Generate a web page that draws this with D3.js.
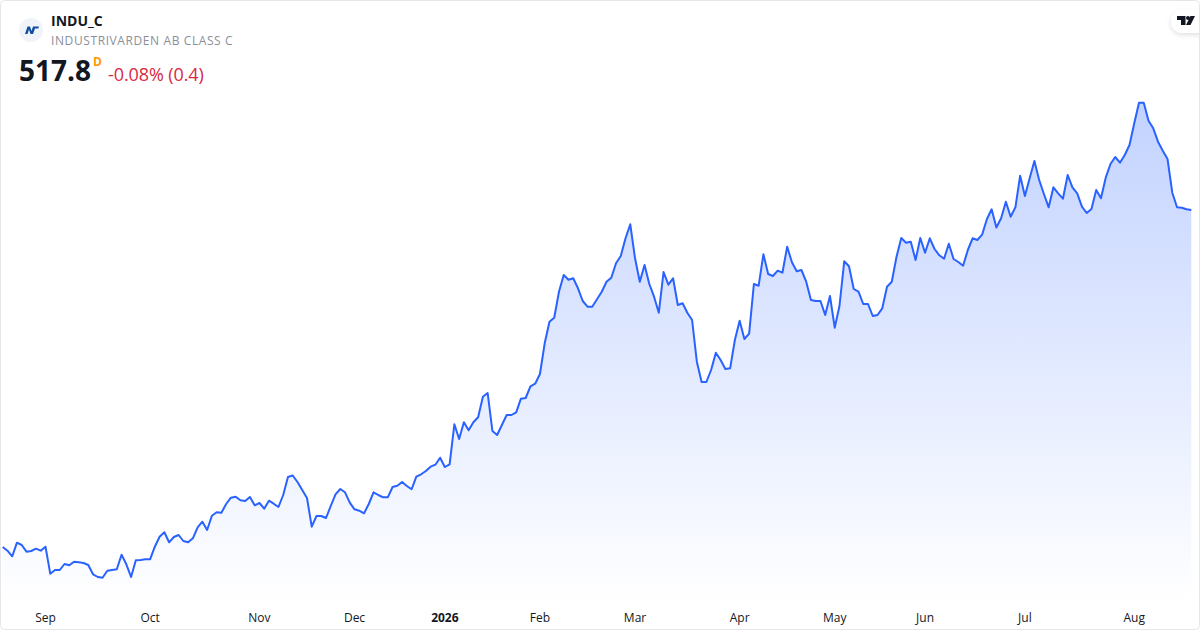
<!DOCTYPE html>
<meta charset="utf-8">
<script src="https://d3js.org/d3.v7.min.js"></script>
<style>
  html, body { margin: 0; padding: 0; background: #fff; }
  svg { display: block; font-family: "Open Sans", sans-serif; }
  .tick-label { font-size: 12px; fill: #131722; }
</style>
<div id="chart"></div>
<script>
// daily closes
var closes = [
  349.3, 347.45, 344.65, 351.45, 350.3, 346.95, 347.3, 348.45, 347.45, 349.45,
  335.95, 337.8, 337.8, 340.8, 340.15, 341.95, 341.65, 341.3, 340.3, 335.65,
  334.3, 333.95, 337.45, 337.8, 338.15, 345.45, 340.65, 334.3, 342.65, 342.8,
  343.15, 343.15, 349.45, 354.45, 356.65, 351.65, 354.3, 355.3, 352.3, 351.65,
  353.65, 359.15, 361.95, 357.8, 364.95, 366.65, 366.45, 370.8, 373.95, 374.45,
  372.65, 372.3, 374.3, 370.15, 371.3, 368.45, 372.45, 370.95, 369.3, 375.3,
  384.3, 385.05, 381.8, 377.8, 373.8, 359.45, 364.8, 364.8, 363.8, 369.8,
  375.65, 378.3, 376.65, 371.45, 368.15, 367.45, 366.15, 370.8, 376.65, 375.3,
  374.15, 374.15, 379.3, 379.95, 381.8, 379.8, 378.15, 384.45, 385.65, 387.3,
  389.45, 390.45, 393.95, 389.3, 390.65, 410.65, 403.3, 411.65, 407.65, 411.65,
  414.15, 424.45, 426.3, 407.3, 405.3, 410.3, 415.3, 415.3, 416.65, 423.45,
  423.8, 429.65, 430.95, 435.8, 451.15, 461.95, 463.95, 476.95, 485.3, 482.95,
  483.65, 478.65, 472.3, 469.45, 469.45, 473.15, 476.95, 481.95, 483.95, 491.15,
  494.8, 503.65, 510.65, 493.65, 481.95, 490.3, 480.8, 474.45, 466.45, 486.8,
  480.45, 483.65, 470.3, 471.15, 466.45, 462.8, 441.95, 431.8, 431.8, 437.8,
  446.45, 442.8, 438.3, 438.65, 452.8, 462.45, 453.3, 455.95, 480.8, 479.95,
  495.65, 485.8, 484.8, 487.45, 486.45, 499.45, 491.65, 487.15, 487.8, 481.95,
  472.8, 472.3, 472.3, 465.3, 474.8, 458.95, 469.8, 492.15, 489.65, 478.3,
  476.95, 470.8, 470.8, 464.8, 465.3, 468.65, 479.45, 481.95, 494.45, 503.8,
  501.45, 501.95, 492.8, 503.8, 496.45, 503.65, 498.3, 495.15, 493.45, 500.95,
  493.3, 491.8, 489.95, 497.8, 503.65, 502.8, 505.45, 513.15, 518.15, 509.05,
  513.65, 521.95, 514.45, 519.15, 534.95, 524.8, 533.65, 542.3, 532.8, 525.8,
  519.15, 529.15, 526.15, 523.45, 535.3, 529.15, 526.15, 519.45, 516.3, 518.3,
  527.8, 523.65, 533.95, 540.8, 544.3, 541.45, 545.3, 550.3, 561.15, 571.45,
  571.45, 562.45, 558.65, 551.95, 547.45, 543.3, 526.45, 519.15, 518.95, 518.2,
  517.8
];

// month labels and the bar each one sits on
var monthLabels = ["Sep", "Oct", "Nov", "Dec", "2026", "Feb", "Mar", "Apr", "May", "Jun", "Jul", "Aug"];
var monthBars = [9, 31, 54, 74, 93, 113, 133, 155, 175, 194, 215, 238];

var width = 1200, height = 630;
var paneBottom = 603;

var svg = d3.select("#chart").append("svg")
  .attr("width", width)
  .attr("height", height);

var x = d3.scaleLinear().domain([0, closes.length - 1]).range([2.7, 1191.3]);
var y = d3.scaleLinear().domain([300, 600]).range([645.6, 45.6]);

// area gradient, runs the height of the pane
var defs = svg.append("defs");
var grad = defs.append("linearGradient")
  .attr("id", "areaFill")
  .attr("gradientUnits", "userSpaceOnUse")
  .attr("x1", 0).attr("x2", 0)
  .attr("y1", 0).attr("y2", paneBottom);
grad.append("stop").attr("offset", "0%").attr("stop-color", "#2962ff").attr("stop-opacity", 0.34);
grad.append("stop").attr("offset", "100%").attr("stop-color", "#2962ff").attr("stop-opacity", 0);

var shadow = defs.append("filter").attr("id", "pillShadow")
  .attr("x", "-30%").attr("y", "-30%").attr("width", "160%").attr("height", "170%");
shadow.append("feDropShadow")
  .attr("dx", 0).attr("dy", 2).attr("stdDeviation", 2.5)
  .attr("flood-color", "#000").attr("flood-opacity", 0.12);

var area = d3.area()
  .x(function(d, i) { return x(i); })
  .y0(paneBottom)
  .y1(function(d) { return y(d); });

var line = d3.line()
  .x(function(d, i) { return x(i); })
  .y(function(d) { return y(d); });

svg.append("path").datum(closes)
  .attr("d", area)
  .attr("fill", "url(#areaFill)");

svg.append("path").datum(closes)
  .attr("d", line)
  .attr("fill", "none")
  .attr("stroke", "#2962ff")
  .attr("stroke-width", 2)
  .attr("stroke-linejoin", "round");

// time axis labels
svg.selectAll(".tick-label")
  .data(monthLabels)
  .enter()
  .append("text")
  .attr("class", "tick-label")
  .attr("x", function(d, i) { return x(monthBars[i]); })
  .attr("y", 622)
  .attr("text-anchor", "middle")
  .style("font-weight", function(d) { return d == "2026" ? 700 : 400; })
  .text(function(d) { return d; });

// header
svg.append("circle").attr("cx", 31).attr("cy", 30).attr("r", 12).attr("fill", "#f0f3fa");
svg.append("path")
  .attr("d", "M25 34L27.5 26.5H30L31.5 31L33 26.5H39L38.3 28.5H35L33 34H30.5L29 29.5L27.5 34Z")
  .attr("fill", "#0f4f9e");

svg.append("text").attr("x", 51).attr("y", 26)
  .style("font-size", "14px").style("font-weight", 700).attr("fill", "#131722")
  .text("INDU_C");
svg.append("text").attr("x", 51).attr("y", 45)
  .style("font-size", "12px").attr("fill", "#8c8f98").style("letter-spacing", "0.6px")
  .text("INDUSTRIVARDEN AB CLASS C");
svg.append("text").attr("x", 19).attr("y", 81)
  .style("font-size", "28px").style("font-weight", 700).attr("fill", "#131722")
  .text("517.8");
svg.append("text").attr("x", 93).attr("y", 66)
  .style("font-size", "12px").style("font-weight", 700).attr("fill", "#ff9800")
  .text("D");
svg.append("text").attr("x", 108).attr("y", 81)
  .style("font-size", "18px").style("letter-spacing", "-0.1px").attr("fill", "#d9293f")
  .text("-0.08% (0.4)");

// logo pill, top right
svg.append("rect")
  .attr("x", 1171).attr("y", 10).attr("width", 50).attr("height", 23).attr("rx", 11.5)
  .attr("fill", "#fff").attr("filter", "url(#pillShadow)");
svg.append("path")
  .attr("d", "M1177 16H1185.5V25H1181V20H1177Z")
  .attr("fill", "#131722");
svg.append("circle").attr("cx", 1188).attr("cy", 18).attr("r", 2).attr("fill", "#131722");
svg.append("path").attr("d", "M1190.5 16H1195L1190.5 25H1186Z").attr("fill", "#131722");

// card border
svg.append("rect")
  .attr("x", 0.5).attr("y", 0.5).attr("width", width - 1).attr("height", height - 1).attr("rx", 4)
  .attr("fill", "none").attr("stroke", "#e6e6e8");
</script>
